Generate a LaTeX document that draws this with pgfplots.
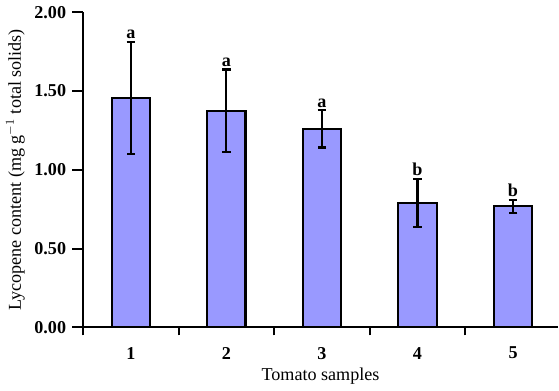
\documentclass[border=0pt]{standalone}
\usepackage{fontspec}
\setmainfont{Liberation Serif}
\usepackage{pgfplots}
\pgfplotsset{compat=1.18}
\definecolor{barfill}{HTML}{9999FF}
\begin{document}
\fontsize{13.5}{16}\selectfont
\begin{tikzpicture}
\begin{axis}[
  scale only axis,
  width=354pt, height=235pt,
  xmin=0.5, xmax=5.47, ymin=0, ymax=2,
  axis x line*=bottom, axis y line*=left,
  axis line style={line width=1.6pt, -},
  xtick={1,2,3,4,5},
  xticklabels={1,2,3,4,5},
  major x tick style={draw=none},
  minor xtick={0.5,1.5,2.5,3.5,4.5},
  minor x tick style={line width=1.6pt, black},
  ytick={0,0.5,1,1.5,2},
  yticklabel style={/pgf/number format/fixed, /pgf/number format/fixed zerofill, /pgf/number format/precision=2, font=\bfseries},
  xticklabel style={font=\bfseries, yshift=-2pt},
  /pgf/number format/assume math mode=true,
  major y tick style={line width=1.6pt, black},
  tick align=outside,
  major tick length=8pt,
  minor tick length=6pt,
  xlabel={Tomato samples},
  ylabel={Lycopene content (mg g$^{-1}$ total solids)},
  xlabel style={yshift=3pt},
  ylabel style={yshift=-2pt},
  clip=false,
]
\addplot[ybar, bar width=0.4, fill=barfill, draw=black, line width=1.6pt,
  error bars/.cd, y dir=both, y explicit,
  error bar style={line width=1.6pt, black},
  error mark options={rotate=90, mark size=3.2pt, line width=1.6pt, black}]
  coordinates {
  (1,1.455) +- (0,0.355)
  (2,1.374) +- (0,0.262)
  (3,1.259) +- (0,0.118)
  (4,0.790) +- (0,0.154)
  (5,0.768) +- (0,0.041)
  };
\addplot[draw=none, mark=none, nodes near coords, point meta=explicit symbolic,
  nodes near coords align=above, every node near coord/.append style={font=\bfseries, inner sep=2pt}]
  coordinates {
  (1,1.81) [a]
  (2,1.636) [a]
  (3,1.377) [a]
  (4,0.944) [b]
  (5,0.809) [b]
  };
\end{axis}
\end{tikzpicture}
\end{document}
